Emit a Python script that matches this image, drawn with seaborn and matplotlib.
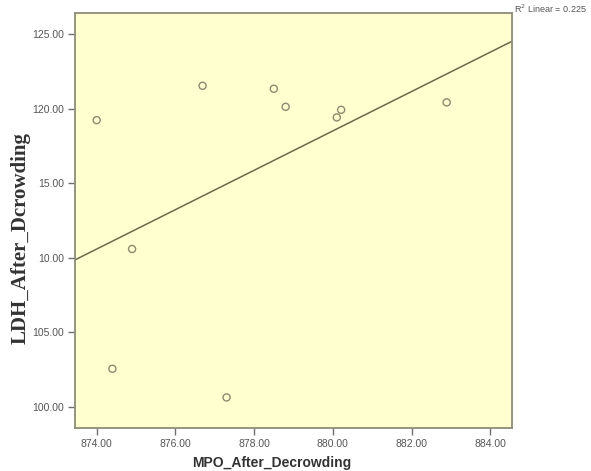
import matplotlib
matplotlib.use("Agg")
import matplotlib.pyplot as plt
import seaborn as sns
import pandas as pd
from matplotlib.ticker import FixedLocator, FixedFormatter

# Data
mpo_after = [874.00, 874.40, 874.90, 876.69, 877.30, 878.50, 878.80, 880.10, 880.21, 882.89]
ldh_after = [119.23, 102.56, 110.59, 121.53, 100.64, 121.33, 120.12, 119.41, 119.92, 120.42]
x_ticks = [874, 876, 878, 880, 882, 884]
x_tick_labels = ["874.00", "876.00", "878.00", "880.00", "882.00", "884.00"]
y_ticks = [100, 105, 110, 115, 120, 125]
y_tick_labels = ["100.00", "105.00", "10.00", "15.00", "120.00", "125.00"]
r2_label = "R$^2$ Linear = 0.225"

df = pd.DataFrame({"MPO_After_Decrowding": mpo_after, "LDH_After_Dcrowding": ldh_after})

fig = plt.figure(figsize=(5.91, 4.71), dpi=100)
ax = fig.add_axes([75/591, 1-428/471, (512-75)/591, (428-13)/471])
ax.set_facecolor("#FFFFD0")
ax.set_xlim(873.45, 884.55)
ax.set_ylim(98.59, 126.41)

edge = "#6E6E55"
sns.regplot(data=df, x="MPO_After_Decrowding", y="LDH_After_Dcrowding", ax=ax,
            ci=None, truncate=False,
            scatter_kws=dict(s=26, facecolors="none", edgecolors=edge, linewidths=1.0),
            line_kws=dict(color="#6A6A48", linewidth=1.1))
ax.set_xlim(873.45, 884.55)
ax.set_ylim(98.59, 126.41)

ax.xaxis.set_major_locator(FixedLocator(x_ticks))
ax.xaxis.set_major_formatter(FixedFormatter(x_tick_labels))
ax.yaxis.set_major_locator(FixedLocator(y_ticks))
ax.yaxis.set_major_formatter(FixedFormatter(y_tick_labels))
ax.tick_params(axis="both", direction="out", length=5, width=1.0, color="#707070",
               labelsize=7.5, labelcolor="#555555", pad=3)
for lab in ax.get_xticklabels() + ax.get_yticklabels():
    lab.set_family("Liberation Sans")

for side in ["left", "bottom", "right", "top"]:
    ax.spines[side].set_color("#8C8C78")
    ax.spines[side].set_linewidth(1.3)

ax.set_xlabel("MPO_After_Decrowding", family="Liberation Sans", fontweight="bold",
              fontsize=10, color="#333333", va="center")
ax.set_ylabel("LDH_After_Dcrowding", family="Liberation Serif", fontweight="bold",
              fontsize=15, color="#333333", va="center")
ax.xaxis.set_label_coords(0.45, -0.084)
ax.yaxis.set_label_coords(-0.1236, 0.458)

fig.text(514/591, 1-9/471, r2_label, family="Liberation Sans", fontsize=6.5,
         color="#555555", ha="left", va="center")

fig.savefig("out.png", dpi=100, facecolor="white")
